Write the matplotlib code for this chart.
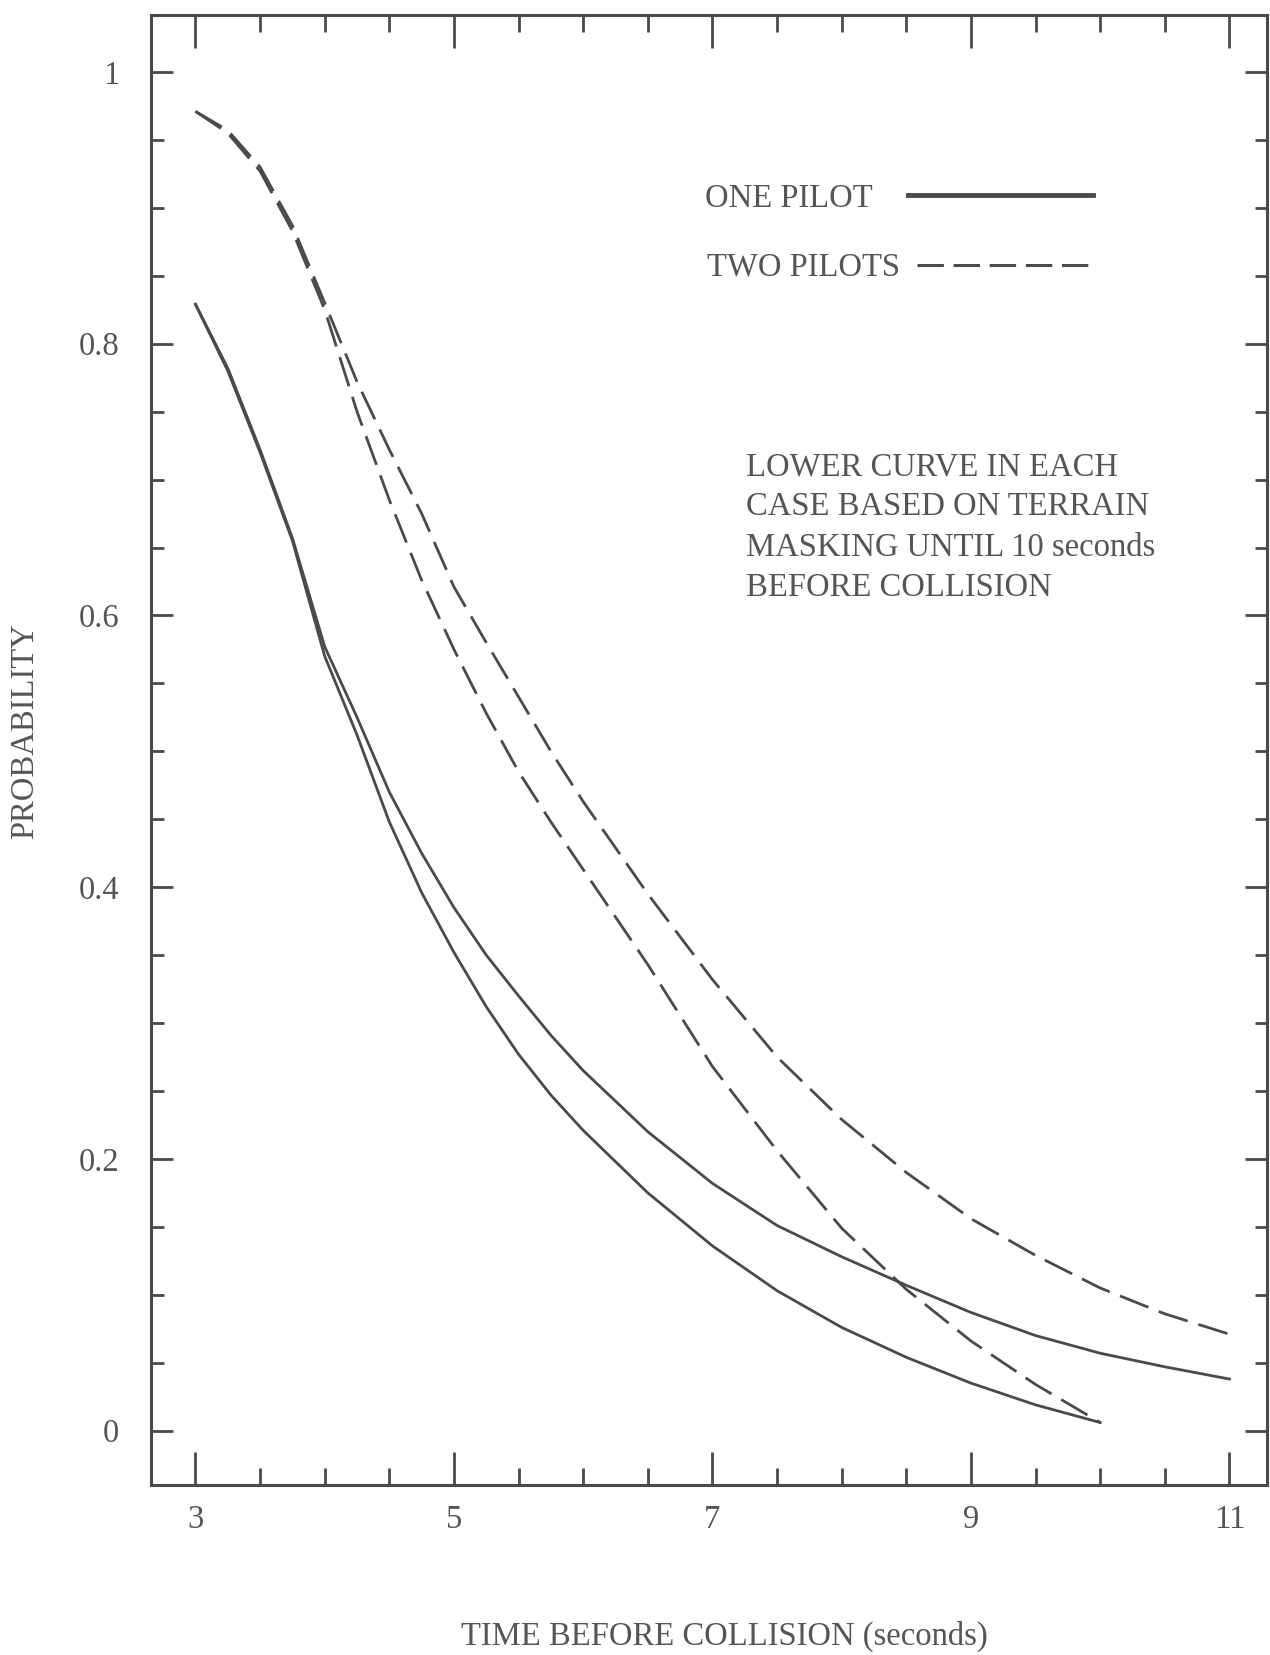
import matplotlib
matplotlib.use("Agg")
import matplotlib.pyplot as plt
from matplotlib.lines import Line2D

plt.rcParams["font.family"] = ["Liberation Serif", "DejaVu Serif"]
plt.rcParams["lines.scale_dashes"] = False

ink = "#4a4a4a"
text_ink = "#555555"

# one pilot, no masking (upper solid)
t_one = [3.0, 3.25, 3.5, 3.75, 4.0, 4.25, 4.5, 4.75, 5.0, 5.25, 5.5, 5.75, 6.0,
         6.5, 7.0, 7.5, 8.0, 8.5, 9.0, 9.5, 10.0, 10.5, 11.0]
p_one = [0.829, 0.782, 0.722, 0.657, 0.577, 0.525, 0.470, 0.425, 0.385, 0.350,
         0.320, 0.291, 0.265, 0.220, 0.182, 0.151, 0.128, 0.107, 0.087, 0.070,
         0.057, 0.047, 0.038]

# one pilot, terrain masking until 10 s (lower solid)
t_one_mask = [3.0, 3.25, 3.5, 3.75, 4.0, 4.25, 4.5, 4.75, 5.0, 5.25, 5.5, 5.75,
              6.0, 6.5, 7.0, 7.5, 8.0, 8.5, 9.0, 9.5, 10.0]
p_one_mask = [0.829, 0.780, 0.720, 0.655, 0.570, 0.512, 0.448, 0.396, 0.352,
              0.312, 0.277, 0.247, 0.221, 0.175, 0.136, 0.103, 0.076, 0.054,
              0.035, 0.019, 0.006]

# two pilots, no masking (upper dashed)
t_two = [3.0, 3.25, 3.5, 3.75, 4.0, 4.25, 4.5, 4.75, 5.0, 5.25, 5.5, 5.75, 6.0,
         6.5, 7.0, 7.5, 8.0, 8.5, 9.0, 9.5, 10.0, 10.5, 11.0]
p_two = [0.971, 0.957, 0.930, 0.887, 0.830, 0.772, 0.722, 0.675, 0.621, 0.580,
         0.540, 0.500, 0.463, 0.395, 0.332, 0.275, 0.229, 0.190, 0.156, 0.129,
         0.105, 0.086, 0.071]

# two pilots, terrain masking until 10 s (lower dashed)
t_two_mask = [3.0, 3.25, 3.5, 3.75, 4.0, 4.25, 4.5, 4.75, 5.0, 5.25, 5.5, 5.75,
              6.0, 6.5, 7.0, 7.5, 8.0, 8.5, 9.0, 9.5, 10.0]
p_two_mask = [0.971, 0.955, 0.927, 0.883, 0.825, 0.750, 0.685, 0.626, 0.575,
              0.528, 0.485, 0.448, 0.413, 0.343, 0.268, 0.206, 0.149, 0.104,
              0.066, 0.034, 0.006]

x_major = [3, 5, 7, 9, 11]
y_major = [0, 0.2, 0.4, 0.6, 0.8, 1.0]
y_labels = ["0", "0.2", "0.4", "0.6", "0.8", "1"]

dash = (0, (22, 8))
fs = 23.5

fig = plt.figure(figsize=(12.7, 16.55), dpi=100)
ax = fig.add_axes([0.119, 0.1027, 0.8786, 0.8883])

ax.plot(t_one, p_one, color=ink, lw=2.0)
ax.plot(t_one_mask, p_one_mask, color=ink, lw=2.0)
ax.plot(t_two, p_two, color=ink, lw=2.0, linestyle=dash)
ax.plot(t_two_mask, p_two_mask, color=ink, lw=2.0, linestyle=dash)

ax.set_xlim(2.657, 11.29)
ax.set_ylim(-0.040, 1.042)

ax.set_xticks(x_major)
ax.set_xticks([x + 0.5 * k for x in [3, 5, 7, 9] for k in (1, 2, 3)], minor=True)
ax.set_yticks(y_major)
ax.set_yticklabels(y_labels)
ax.set_yticks([v / 20 for v in range(21) if v % 4 != 0], minor=True)

ax.tick_params(axis="x", which="major", direction="in", length=24, width=2,
               top=True, bottom=True, color=ink, labelsize=fs, labelcolor=text_ink, pad=14)
ax.tick_params(axis="x", which="minor", direction="in", length=12, width=2,
               top=True, bottom=True, color=ink)
ax.tick_params(axis="y", which="major", direction="in", length=16, width=2,
               left=True, right=True, color=ink, labelsize=fs, labelcolor=text_ink, pad=23)
ax.tick_params(axis="y", which="minor", direction="in", length=9, width=2,
               left=True, right=True, color=ink)

for s in ax.spines.values():
    s.set_color(ink)
    s.set_linewidth(2.2)

ax.set_xlabel("TIME BEFORE COLLISION (seconds)", fontsize=fs, color=text_ink, va="center")
ax.xaxis.set_label_coords(0.514, -0.103)
ax.set_ylabel("PROBABILITY", fontsize=fs, color=text_ink, va="center")
ax.yaxis.set_label_coords(-0.113, 0.513)

# legend: labels left-aligned, sample lines in one column to the right
ax.text(0.4966, 0.8752, "ONE PILOT", transform=ax.transAxes, fontsize=fs,
        color=text_ink, va="center", ha="left")
ax.text(0.498, 0.8286, "TWO PILOTS", transform=ax.transAxes, fontsize=fs,
        color=text_ink, va="center", ha="left")
ax.add_line(Line2D([0.678, 0.8437], [0.8774, 0.8774], transform=ax.transAxes,
                   color=ink, lw=3.5))
ax.add_line(Line2D([0.686, 0.8437], [0.830, 0.830], transform=ax.transAxes,
                   color=ink, lw=2.2, linestyle=(0, (19, 7))))

ax.text(0.533, 0.703, "LOWER CURVE IN EACH\nCASE BASED ON TERRAIN\n"
        "MASKING UNTIL 10 seconds\nBEFORE COLLISION",
        transform=ax.transAxes, fontsize=fs, color=text_ink, va="top", ha="left",
        linespacing=1.42)

fig.savefig("out.png", dpi=100, facecolor="white")
